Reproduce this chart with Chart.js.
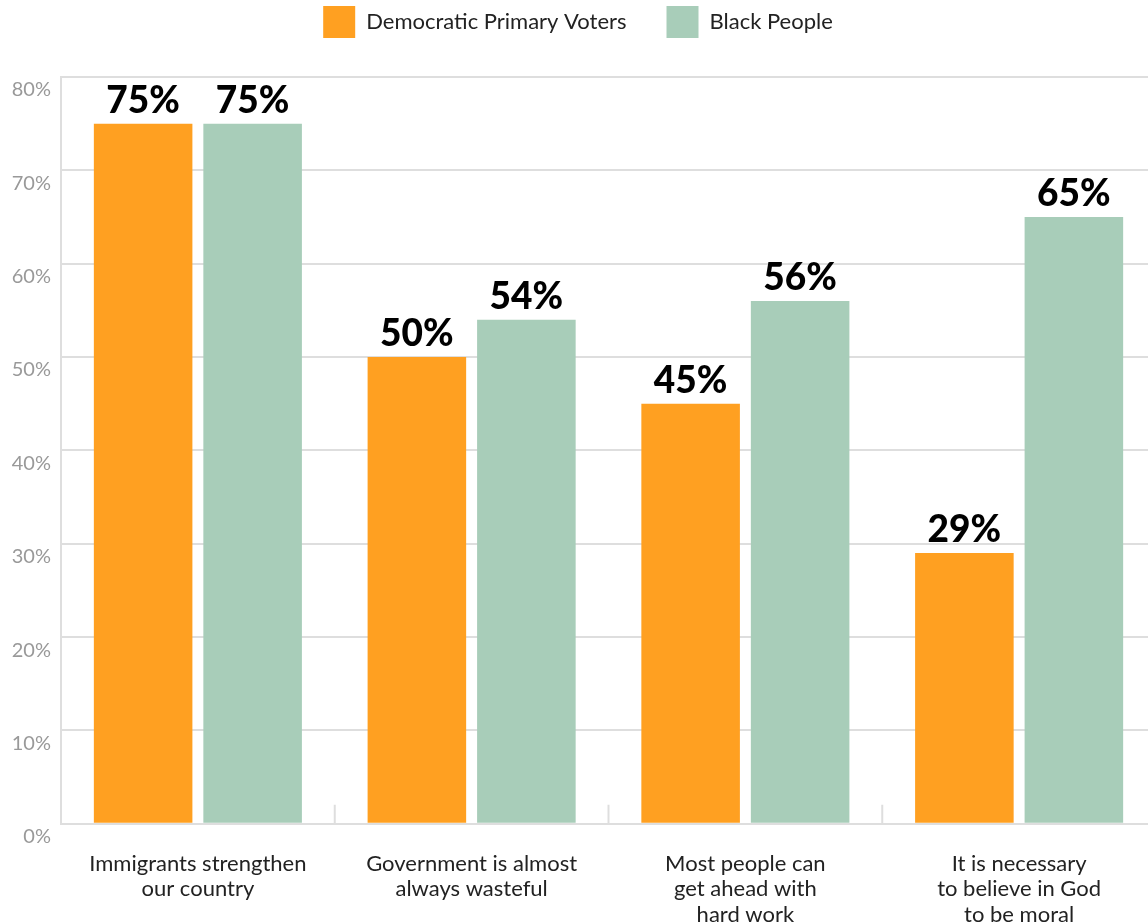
<!DOCTYPE html>
<html>
<head>
<meta charset="utf-8">
<script src="https://cdn.jsdelivr.net/npm/chart.js@4"></script>
<style>
  html, body { margin: 0; padding: 0; background: #fff; overflow: hidden; }
  #wrap { width: 1156px; height: 923px; }
</style>
</head>
<body>
<div id="wrap"><canvas id="barChart"></canvas></div>
<script>
// 데이터
const categories = [
  ['Immigrants strengthen', 'our country'],
  ['Government is almost', 'always wasteful'],
  ['Most people can', 'get ahead with', 'hard work'],
  ['It is necessary', 'to believe in God', 'to be moral'],
];
const seriesNames = ['Democratic Primary Voters', 'Black People'];
const democratVoters = [75, 50, 45, 29];
const blackPeople = [75, 54, 56, 65];
const yTicks = [0, 10, 20, 30, 40, 50, 60, 70, 80];

const colors = ['#ffa021', '#a8cdb9'];
const gridColor = '#dedede';

// 막대 위 값 표시
const valueLabels = {
  id: 'valueLabels',
  afterDatasetsDraw(chart) {
    const ctx = chart.ctx;
    ctx.save();
    ctx.font = '900 37px Lato';
    ctx.fillStyle = '#000';
    ctx.textAlign = 'center';
    ctx.textBaseline = 'bottom';
    chart.data.datasets.forEach((ds, i) => {
      chart.getDatasetMeta(i).data.forEach((bar, j) => {
        ctx.fillText(ds.data[j] + '%', bar.x, bar.y - 4);
      });
    });
    ctx.restore();
  },
};

// 카테고리 사이 짧은 구분선
const separators = {
  id: 'separators',
  beforeDatasetsDraw(chart) {
    const x = chart.scales.x;
    const bottom = chart.chartArea.bottom;
    const ctx = chart.ctx;
    ctx.save();
    ctx.strokeStyle = gridColor;
    ctx.lineWidth = 2;
    for (let i = 1; i < categories.length; i++) {
      const px = (x.getPixelForValue(i - 1) + x.getPixelForValue(i)) / 2;
      ctx.beginPath();
      ctx.moveTo(px, bottom - 19);
      ctx.lineTo(px, bottom);
      ctx.stroke();
    }
    ctx.restore();
  },
};

// 범례 아래 여백
const legendGap = {
  id: 'legendGap',
  beforeInit(chart) {
    const fit = chart.legend.fit;
    chart.legend.fit = function () {
      fit.bind(chart.legend)();
      this.height += 29;
    };
  },
};

new Chart(document.getElementById('barChart'), {
  type: 'bar',
  plugins: [valueLabels, separators, legendGap],
  data: {
    labels: categories,
    datasets: [
      { label: seriesNames[0], data: democratVoters, backgroundColor: colors[0] },
      { label: seriesNames[1], data: blackPeople, backgroundColor: colors[1] },
    ],
  },
  options: {
    responsive: true,
    maintainAspectRatio: false,
    animation: false,
    categoryPercentage: 0.8,
    barPercentage: 0.9,
    layout: { padding: { top: -34, right: 0, bottom: -24, left: 0 } },
    plugins: {
      legend: {
        position: 'top',
        labels: {
          boxWidth: 32,
          boxHeight: 32,
          padding: 40,
          color: '#222',
          font: { family: 'Lato', size: 22 },
        },
      },
      tooltip: { enabled: false },
    },
    scales: {
      x: {
        grid: { display: false },
        border: { display: true, color: gridColor, width: 2 },
        ticks: {
          color: '#222',
          padding: 20,
          maxRotation: 0,
          font: { family: 'Lato', size: 22, lineHeight: 1.14 },
        },
      },
      y: {
        min: 0,
        max: 80,
        afterBuildTicks(scale) {
          scale.ticks = yTicks.map(v => ({ value: v }));
        },
        afterFit(scale) {
          scale.width = 61;
        },
        grid: { color: gridColor, lineWidth: 2, drawTicks: false },
        border: { display: true, color: gridColor, width: 2 },
        ticks: {
          color: '#999',
          padding: 10,
          labelOffset: 13,
          font: { family: 'Lato', size: 20 },
          callback: v => v + '%',
        },
      },
    },
  },
});
</script>
</body>
</html>
